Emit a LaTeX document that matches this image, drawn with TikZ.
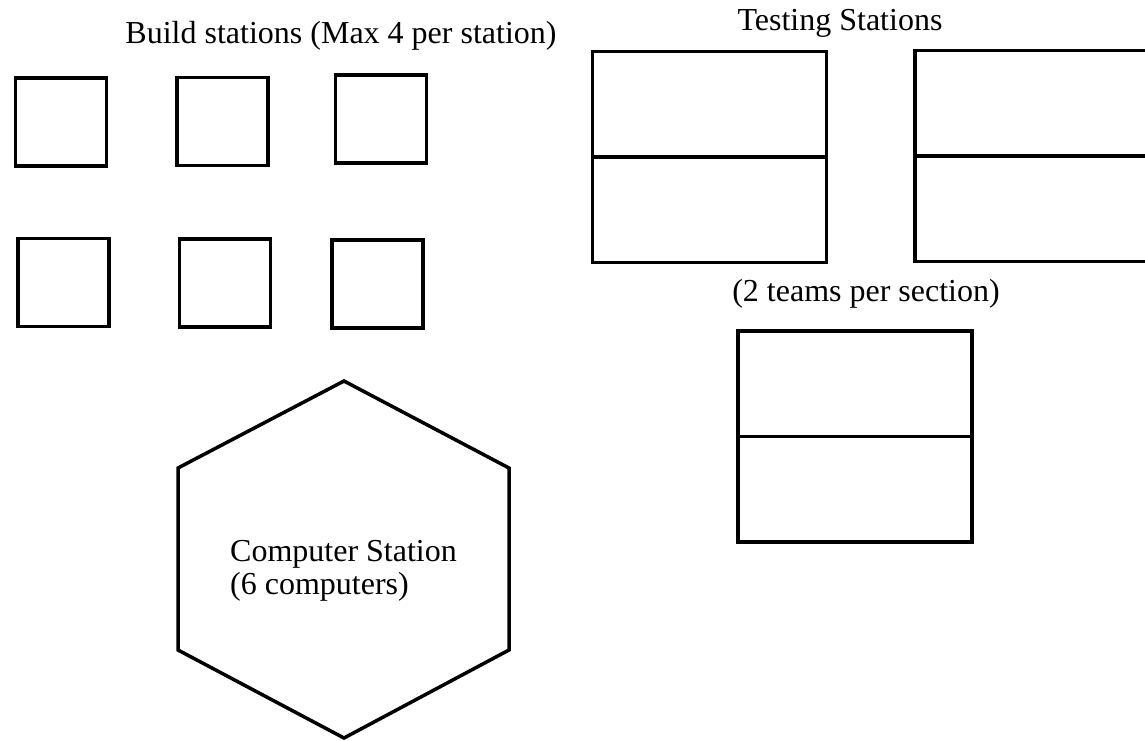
\documentclass[tikz,border=0pt]{standalone}
\usepackage{fontspec}
\setmainfont{Liberation Serif}
\begin{document}
\begin{tikzpicture}[x=1pt,y=-1pt,
  station/.style={draw=black, line width=3.8pt, inner sep=0pt, outer sep=0pt},
  buildbox/.style={station, minimum width=91pt, minimum height=88pt},
  testbox/.style={station, minimum width=234pt, minimum height=211pt},
  label/.style={inner sep=0pt, anchor=base, font=\fontsize{32}{36}\selectfont}]
\useasboundingbox (0,0) rectangle (1145,740);
\begin{scope}
\clip (0,0) rectangle (1145,740);

% title of the build area
\node[label] (buildtitle) at (341,43) {Build stations (Max 4 per station)};

% build stations, two rows of three
\node[buildbox] (b1) at (61,122) {};
\node[buildbox] (b2) at (222.5,121.5) {};
\node[buildbox] (b3) at (381,119) {};
\node[buildbox] (b4) at (63.5,282.5) {};
\node[buildbox] (b5) at (225,283) {};
\node[buildbox] (b6) at (377.5,284) {};

% testing stations, each split into two sections
\node[label] (testtitle) at (840,30) {Testing Stations};
\node[testbox] (t1) at (709.5,157) {};
\node[testbox] (t2) at (1032,156) {};
\node[testbox] (t3) at (855,436.5) {};
\foreach \t in {t1,t2,t3}
  \draw[line width=3.8pt] (\t.west) -- (\t.east);
\node[label] (teams) at (866,301) {(2 teams per section)};

% computer station
\coordinate (h1) at (344,381);
\coordinate (h2) at (509,468);
\coordinate (h3) at (509,650);
\coordinate (h4) at (344,738);
\coordinate (h5) at (178,650);
\coordinate (h6) at (178,468);
\draw[line width=3.5pt, line join=miter] (h1) -- (h2) -- (h3) -- (h4) -- (h5) -- (h6) -- cycle;
\node[label, anchor=base west] (comp1) at (230,561) {Computer Station};
\node[label, anchor=base west] (comp2) at (230,594) {(6 computers)};
\end{scope}
\end{tikzpicture}
\end{document}
